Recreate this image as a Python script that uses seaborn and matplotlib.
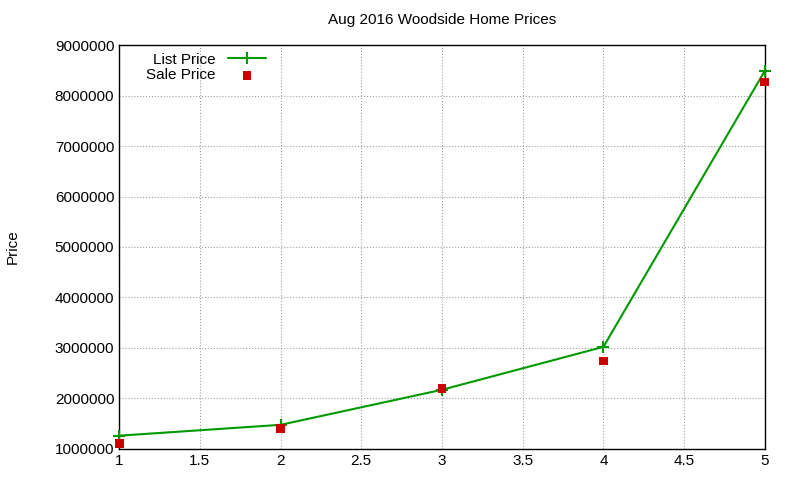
import matplotlib
matplotlib.use("Agg")
import matplotlib.pyplot as plt
import seaborn as sns
import pandas as pd
from matplotlib.ticker import FuncFormatter

x = [1, 2, 3, 4, 5]
list_price = [1260000, 1475000, 2170000, 3020000, 8490000]
sale_price = [1100000, 1400000, 2200000, 2740000, 8270000]

sns.set_style("white")
plt.rcParams['font.family'] = ['Liberation Sans', 'DejaVu Sans']
plt.rcParams['text.color'] = 'black'
plt.rcParams['axes.labelcolor'] = 'black'
plt.rcParams['xtick.color'] = 'black'
plt.rcParams['ytick.color'] = 'black'

fig = plt.figure(figsize=(8, 4.8), dpi=100)
ax = fig.add_axes([0.149, 0.065, 0.807, 0.841])
df = pd.DataFrame({"x": x, "list": list_price, "sale": sale_price})
sns.lineplot(data=df, x="x", y="list", ax=ax, color="#009900", marker="+",
             markersize=8, markeredgewidth=1.5, markeredgecolor="#009900",
             linewidth=1.5, label="List Price", clip_on=False, zorder=4)
sns.scatterplot(data=df, x="x", y="sale", ax=ax, color="#cc0000", marker="s",
                s=40, edgecolor="none", label="Sale Price", zorder=5, clip_on=False)

ax.set_xlim(1, 5)
ax.set_ylim(1000000, 9000000)
ax.set_xticks([1, 1.5, 2, 2.5, 3, 3.5, 4, 4.5, 5])
ax.set_xticklabels(["1", "1.5", "2", "2.5", "3", "3.5", "4", "4.5", "5"])
ax.set_yticks(range(1000000, 9000001, 1000000))
ax.yaxis.set_major_formatter(FuncFormatter(lambda v, p: f"{int(v)}"))
ax.grid(True, color="#a0a0a0", linestyle=":", linewidth=0.8)
for s in ax.spines.values():
    s.set_color("black")
    s.set_linewidth(1)
ax.tick_params(labelsize=11, direction="in", length=5, color="black")
ax.set_xlabel("")
ax.set_ylabel("Price", fontsize=11, labelpad=25)
ax.set_title("Aug 2016 Woodside Home Prices", fontsize=11, pad=15)
ax.legend(loc="upper left", markerfirst=False, frameon=False, fontsize=11,
          borderaxespad=0.1, handlelength=2.5, labelspacing=0.1,
          bbox_to_anchor=(0.03, 1.0))
fig.savefig("out.png", dpi=100)
